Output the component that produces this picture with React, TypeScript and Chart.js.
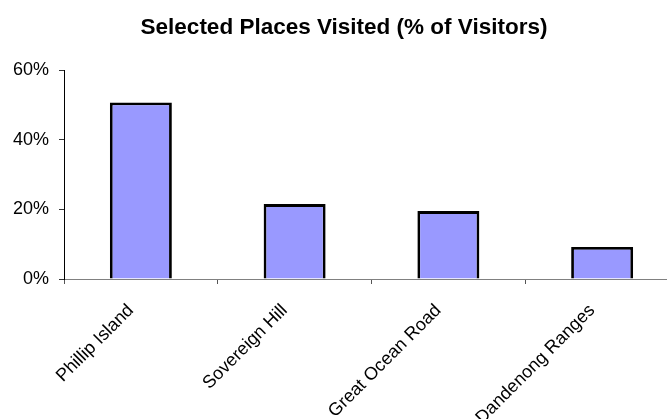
import React, { useEffect, useRef } from "react";
import { Chart, registerables } from "chart.js";

Chart.register(...registerables);

const categories = ["Phillip Island", "Sovereign Hill", "Great Ocean Road", "Dandenong Ranges"];
const visitedPct = [50.7, 21.5, 19.5, 9.2];
const yTicks = [0, 20, 40, 60];
const titleText = "Selected Places Visited (% of Visitors)";

const FONT = "'Liberation Sans', Arial, Helvetica, sans-serif";

export default function App() {
  const ref = useRef<HTMLCanvasElement | null>(null);

  useEffect(() => {
    if (!ref.current) return;
    const chart = new Chart(ref.current, {
      type: "bar",
      data: {
        labels: categories,
        datasets: [
          {
            data: visitedPct,
            backgroundColor: "#9999FF",
            borderColor: "#000000",
            borderWidth: 2.8,
            categoryPercentage: 1,
            barPercentage: 0.403,
          },
        ],
      },
      options: {
        responsive: false,
        animation: false,
        layout: { padding: { top: 14, right: 9, left: 9, bottom: 0 } },
        plugins: {
          legend: { display: false },
          tooltip: { enabled: false },
          title: {
            display: true,
            text: titleText,
            color: "#000",
            font: { family: FONT, size: 22.5, weight: "bold" },
            padding: { top: 0, bottom: 29 },
          },
        },
        scales: {
          x: {
            grid: { drawOnChartArea: false, drawTicks: true, tickLength: 5, color: "#555" },
            border: { color: "#808080", width: 1 },
            ticks: {
              color: "#000",
              font: { family: FONT, size: 18 },
              minRotation: 45,
              maxRotation: 45,
              autoSkip: false,
              padding: 16,
              labelOffset: -10,
            },
            afterFit: (s: any) => {
              s.height = 140;
            },
          },
          y: {
            min: 0,
            max: 60,
            afterBuildTicks: (s: any) => {
              s.ticks = yTicks.map((v) => ({ value: v }));
            },
            grid: { drawOnChartArea: false, drawTicks: true, tickLength: 5, color: "#333" },
            border: { color: "#000", width: 1 },
            ticks: {
              color: "#000",
              font: { family: FONT, size: 18 },
              padding: 10,
              callback: (v: any) => v + "%",
            },
            afterFit: (s: any) => {
              s.width = 55;
            },
          },
        },
      },
    });
    return () => chart.destroy();
  }, []);

  return (
    <div style={{ position: "fixed", left: 0, top: 0, width: 667, height: 419, overflow: "hidden", background: "#fff" }}>
      <canvas ref={ref} width={688} height={419} style={{ display: "block" }} />
    </div>
  );
}
